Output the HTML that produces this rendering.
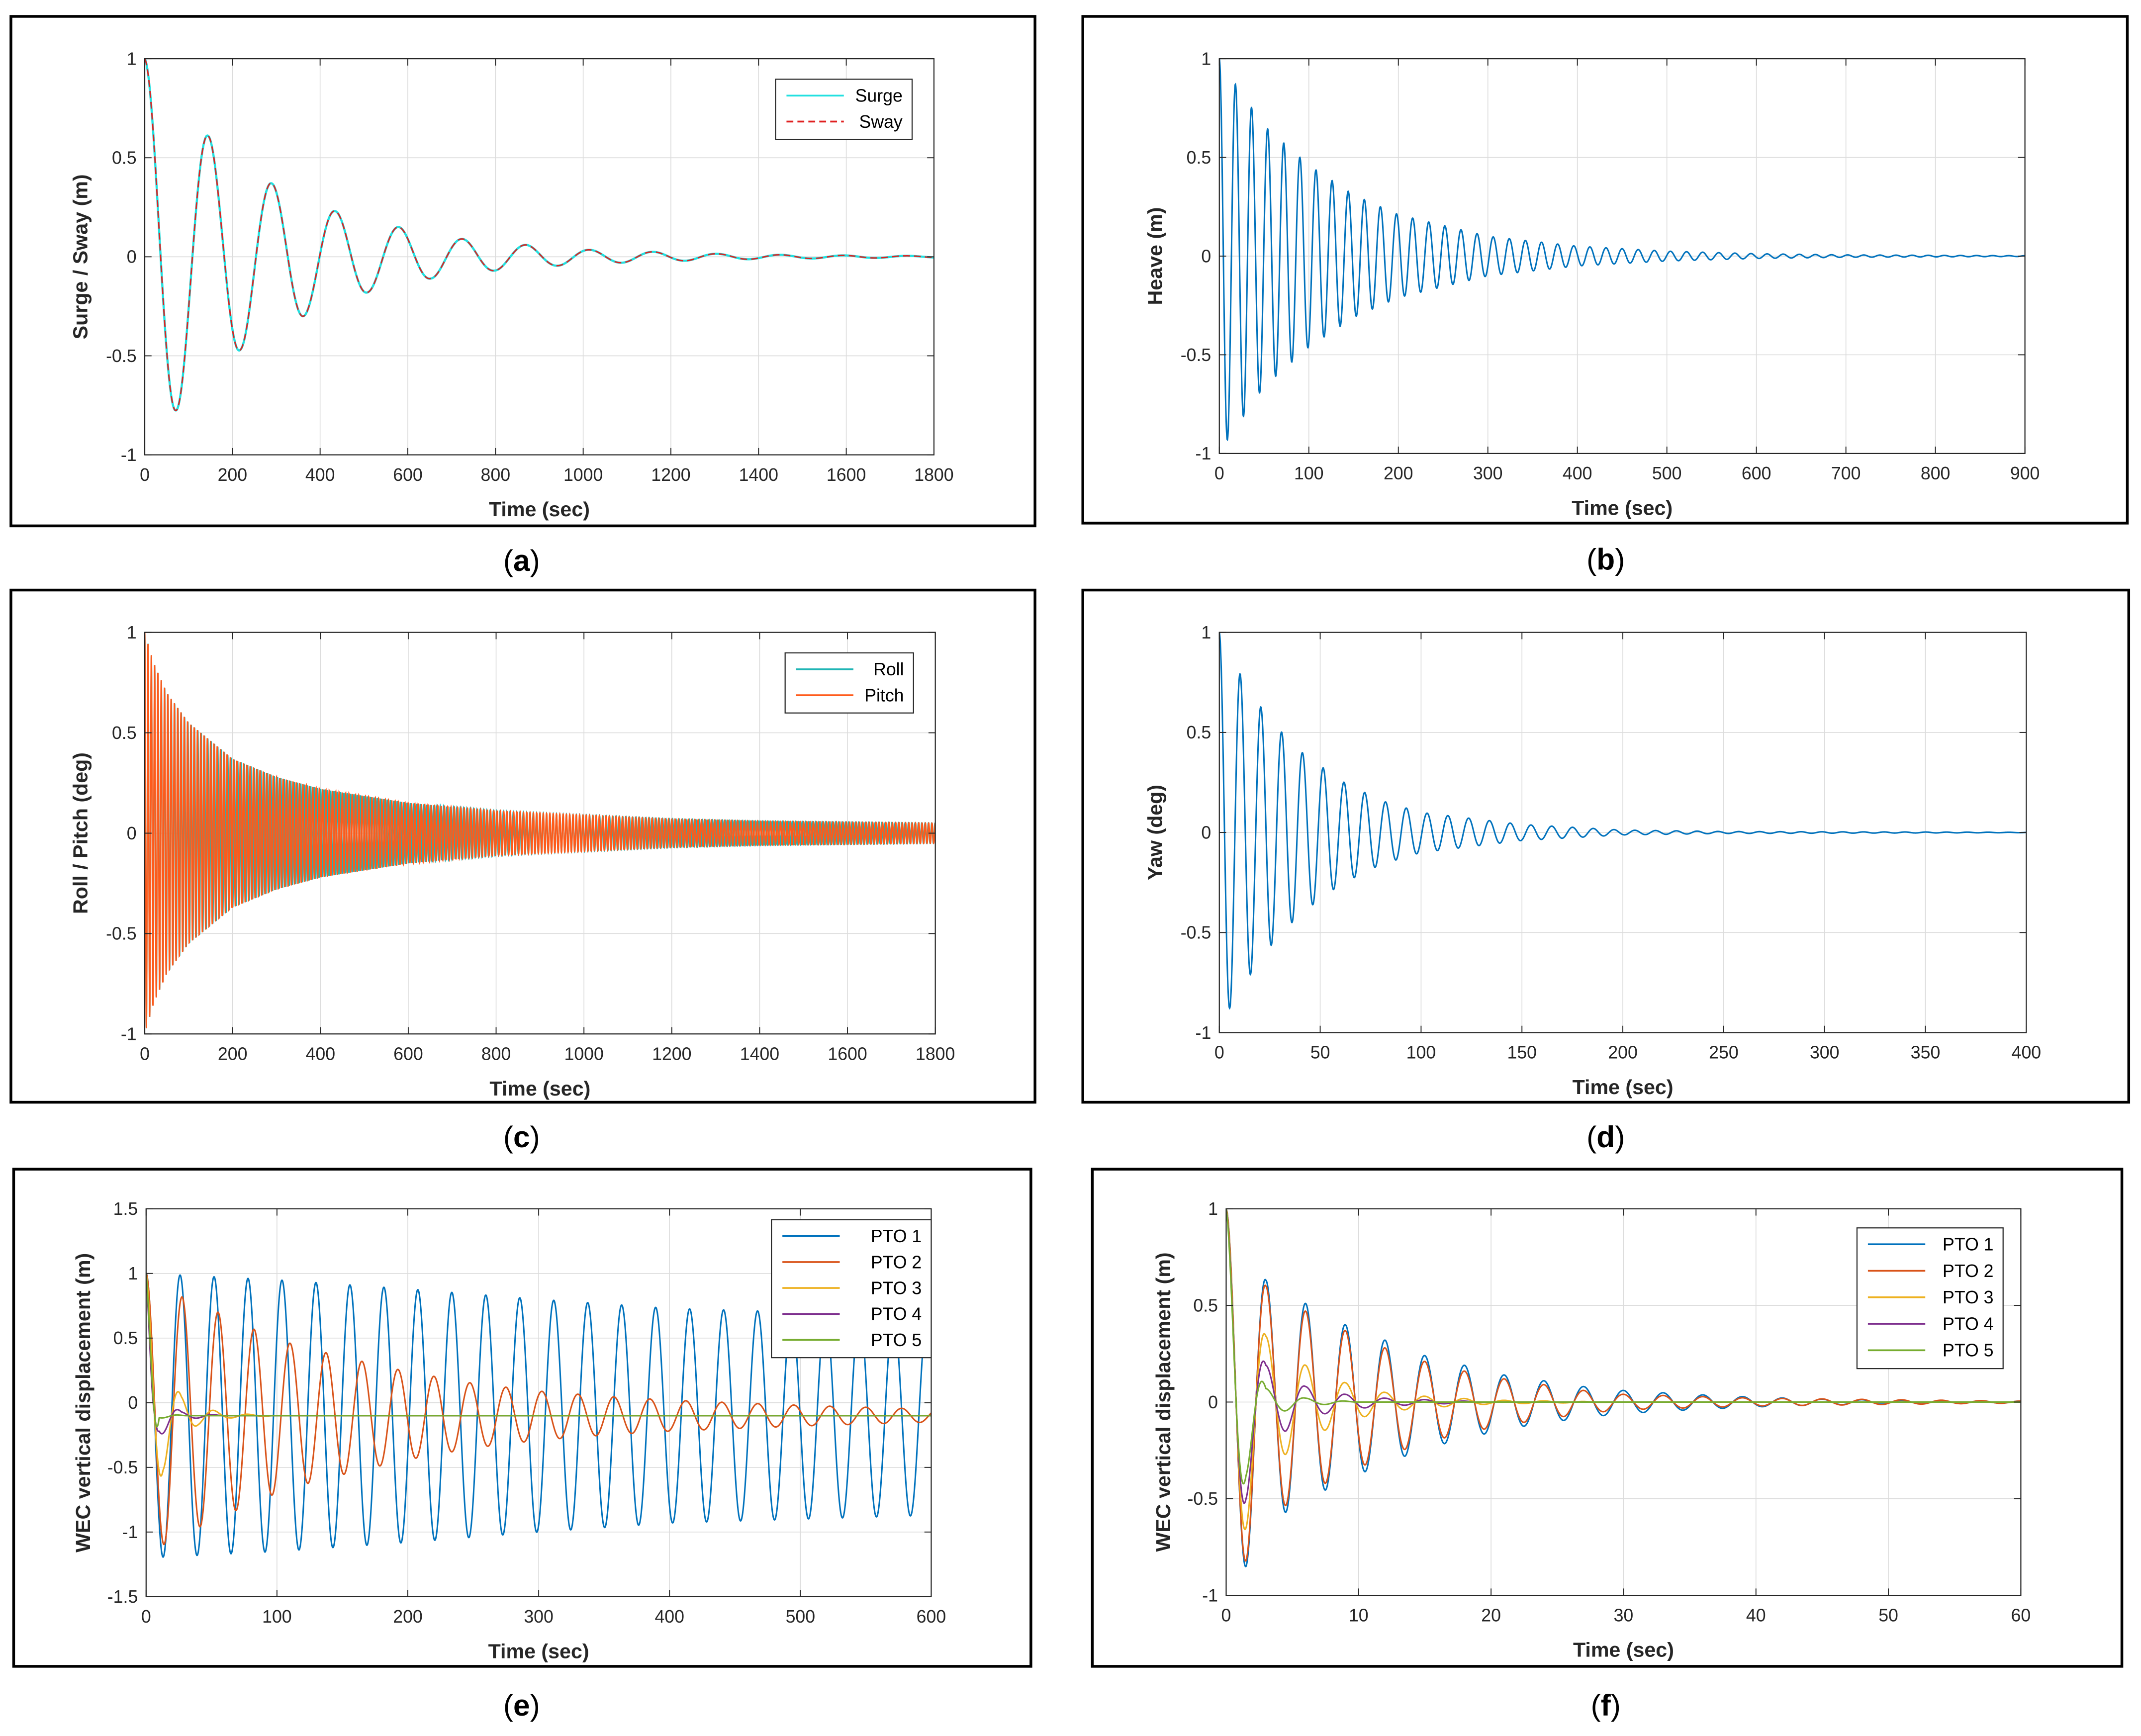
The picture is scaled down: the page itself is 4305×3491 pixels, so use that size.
<!DOCTYPE html>
<html><head><meta charset="utf-8"><style>
html,body{margin:0;padding:0;background:#fff;}
svg{display:block;}
text{font-family:"Liberation Sans",sans-serif;}
</style></head><body>
<svg id="fig" xmlns="http://www.w3.org/2000/svg" width="4305" height="3491" viewBox="0 0 1568 1271" preserveAspectRatio="none"></svg>
<script>
// ---------- data ----------
// (a) surge / sway
const surgePeriod = 145;
const surgeEnvT = [0, 70, 145, 218, 290, 362, 435, 508, 580, 652, 725, 797, 870, 942, 1015, 1087, 1160, 1232, 1305, 1450, 1595, 1800];
const surgeEnvV = [1, 0.78, 0.61, 0.47, 0.37, 0.30, 0.23, 0.18, 0.15, 0.11, 0.09, 0.07, 0.06, 0.045, 0.035, 0.03, 0.025, 0.02, 0.015, 0.01, 0.007, 0.004];
// (b) heave
const heavePeriod = 18;
const heaveEnvT = [0, 9, 18, 50, 100, 150, 200, 300, 400, 500, 600, 700, 900];
const heaveEnvV = [1, 0.93, 0.87, 0.66, 0.46, 0.31, 0.21, 0.10, 0.05, 0.025, 0.012, 0.006, 0.002];
// (c) roll / pitch
const rollPeriod = 7.56;
const pitchPeriod = 7.5;
const rpEnvT = [0, 20, 50, 100, 200, 300, 400, 600, 800, 1000, 1200, 1400, 1800];
const rpEnvV = [1, 0.85, 0.7, 0.55, 0.37, 0.28, 0.22, 0.15, 0.11, 0.09, 0.07, 0.06, 0.05];
// (d) yaw
const yawPeriod = 10.3;
const yawEnvT = [0, 5, 11, 21, 31, 41, 60, 80, 100, 150, 200, 250, 400];
const yawEnvV = [1, 0.88, 0.78, 0.62, 0.5, 0.4, 0.26, 0.16, 0.1, 0.04, 0.012, 0.005, 0.001];
// (e) PTO vertical displacement, 600 s
const ePeriods = [25.96, 27.5, 26, 26, 26];
const eOffset = -0.1;
const eEnvT1 = [0, 100, 200, 300, 400, 500, 600];
const eEnvV1 = [1.1, 1.05, 0.98, 0.9, 0.83, 0.8, 0.77];
const eEnvT2 = [0, 13, 27, 55, 82, 110, 140, 165, 200, 250, 300, 350, 400, 500, 600];
const eEnvV2 = [1.1, 1.0, 0.92, 0.8, 0.67, 0.56, 0.48, 0.42, 0.34, 0.25, 0.19, 0.15, 0.12, 0.08, 0.05];
const eEnvT3 = [0, 13, 27, 40, 60, 100, 600];
const eEnvV3 = [1.1, 0.42, 0.15, 0.07, 0.02, 0, 0];
const eEnvT4 = [0, 5, 10, 15, 27, 60, 600];
const eEnvV4 = [1.1, 0.4, 0.16, 0.12, 0.03, 0, 0];
const eEnvT5 = [0, 10, 30, 600];
const eEnvV5 = [1.1, 0.02, 0, 0];
// (f) PTO vertical displacement, 60 s
const fPeriod = 3.0;
const fEnvT1 = [0, 1.5, 3, 6, 9, 12, 15, 18, 21, 24, 27, 30, 35, 40, 45, 50, 60];
const fEnvV1 = [1, 0.85, 0.63, 0.51, 0.4, 0.32, 0.24, 0.19, 0.14, 0.11, 0.08, 0.06, 0.04, 0.025, 0.015, 0.01, 0.005];
const fEnvT2 = [0, 1.5, 3, 6, 9, 12, 15, 18, 21, 24, 27, 30, 40, 60];
const fEnvV2 = [1, 0.82, 0.6, 0.47, 0.37, 0.28, 0.21, 0.16, 0.12, 0.09, 0.06, 0.04, 0.02, 0.005];
const fEnvT3 = [0, 1.5, 3, 4.5, 6, 9, 12, 15, 20, 30, 60];
const fEnvV3 = [1, 0.65, 0.34, 0.27, 0.19, 0.1, 0.05, 0.03, 0.01, 0, 0];
const fEnvT4 = [0, 1.5, 3, 4.5, 6, 9, 12, 20, 60];
const fEnvV4 = [1, 0.5, 0.19, 0.15, 0.08, 0.04, 0.02, 0, 0];
const fEnvT5 = [0, 1.5, 3, 6, 10, 60];
const fEnvV5 = [1, 0.38, 0.07, 0.02, 0, 0];

const ticksA = [0,200,400,600,800,1000,1200,1400,1600,1800];
const ticksB = [0,100,200,300,400,500,600,700,800,900];
const ticksD = [0,50,100,150,200,250,300,350,400];
const ticksE = [0,100,200,300,400,500,600];
const ticksF = [0,10,20,30,40,50,60];
const yTicks1 = [-1,-0.5,0,0.5,1];
const yTicks15 = [-1.5,-1,-0.5,0,0.5,1,1.5];

// ---------- helpers ----------
const NS = 'http://www.w3.org/2000/svg';
const svg = document.getElementById('fig');
function mk(tag, attrs, parent) {
  const e = document.createElementNS(NS, tag);
  for (const k in attrs) e.setAttribute(k, attrs[k]);
  (parent || svg).appendChild(e);
  return e;
}
function interp(T, V, t) {
  if (t <= T[0]) return V[0];
  for (let i = 1; i < T.length; i++) {
    if (t <= T[i]) { const f = (t - T[i-1]) / (T[i] - T[i-1]); return V[i-1] + f * (V[i] - V[i-1]); }
  }
  return V[V.length - 1];
}
function fmt(v) { return String(v); }

function panel(p) {
  const g = mk('g', {});
  
  
  const box = mk('rect', {x:p.box[0], y:p.box[1], width:p.box[2]-p.box[0], height:p.box[3]-p.box[1], fill:'#fff', stroke:'#000', 'stroke-width':2}, g);
  
  
  const [L, T, R, B] = p.plot;
  const sx = v => L + (v - p.xr[0]) / (p.xr[1] - p.xr[0]) * (R - L);
  const sy = v => B - (v - p.yr[0]) / (p.yr[1] - p.yr[0]) * (B - T);
  const grid = mk('g', {stroke:'#dcdcdc', 'stroke-width':0.6}, g);
  
  
  p.xt.forEach(v => mk('line', {x1:sx(v), x2:sx(v), y1:T, y2:B}, grid));
  p.yt.forEach(v => mk('line', {x1:L, x2:R, y1:sy(v), y2:sy(v)}, grid));
  const clip = 'clip-' + p.name;
  const cp = mk('clipPath', {id:clip}, g);
  mk('rect', {x:L, y:T, width:R-L, height:B-T}, cp);
  const sg = mk('g', {'clip-path':'url(#' + clip + ')'}, g);
  p.series.forEach(s => {
    const n = s.n || 3000;
    let d = '';
    for (let i = 0; i <= n; i++) {
      const t = p.xr[0] + (p.xr[1] - p.xr[0]) * i / n;
      const v = (s.off || 0) + interp(s.envT, s.envV, t) * Math.cos(2 * Math.PI * t / s.period);
      d += (i ? 'L' : 'M') + sx(t).toFixed(2) + ',' + sy(v).toFixed(2);
    }
    const path = mk('path', {d:d, fill:'none', stroke:s.color, 'stroke-width':s.w || 1.1, 'stroke-dasharray':s.dash || 'none'}, sg);
    
    
  });
  const ax = mk('rect', {x:L, y:T, width:R-L, height:B-T, fill:'none', stroke:'#262626', 'stroke-width':0.8}, g);
  
  
  p.xt.forEach(v => {
    mk('line', {x1:sx(v), x2:sx(v), y1:B, y2:B-5, stroke:'#262626', 'stroke-width':0.7}, g);
    mk('line', {x1:sx(v), x2:sx(v), y1:T, y2:T+5, stroke:'#262626', 'stroke-width':0.7}, g);
    const tx = mk('text', {x:sx(v), y:B+19, 'text-anchor':'middle', 'font-size':13, fill:'#262626'}, g);
    tx.textContent = fmt(v);
    
    
  });
  p.yt.forEach(v => {
    mk('line', {x1:L, x2:L+5, y1:sy(v), y2:sy(v), stroke:'#262626', 'stroke-width':0.7}, g);
    mk('line', {x1:R, x2:R-5, y1:sy(v), y2:sy(v), stroke:'#262626', 'stroke-width':0.7}, g);
    const tx = mk('text', {x:L-6, y:sy(v)+4.5, 'text-anchor':'end', 'font-size':13, fill:'#262626'}, g);
    tx.textContent = fmt(v);
    
    
  });
  const xl = mk('text', {x:(L+R)/2, y:B+45, 'text-anchor':'middle', 'font-size':15, 'font-weight':'bold', fill:'#262626'}, g);
  xl.textContent = 'Time (sec)';
  
  
  const yx = p.ylx, yy = (T+B)/2;
  const yl = mk('text', {x:yx, y:yy, 'text-anchor':'middle', 'font-size':15, 'font-weight':'bold', fill:'#262626', transform:'rotate(-90 '+yx+' '+yy+')'}, g);
  yl.textContent = p.ylabel;
  
  
  if (p.legend) {
    const [lx, ly, lw] = p.legend;
    const rowH = p.legendRow;
    const lg = mk('g', {}, g);
    
    
    mk('rect', {x:lx, y:ly, width:lw, height:rowH*p.series.length+6, fill:'#fff', stroke:'#262626', 'stroke-width':0.8}, lg);
    p.series.forEach((s, i) => {
      const yy2 = ly + 12 + i*rowH;
      mk('line', {x1:lx+8, x2:lx+50, y1:yy2, y2:yy2, stroke:s.color, 'stroke-width':1.3, 'stroke-dasharray':s.dash || 'none'}, lg);
      const t = mk('text', {x:lw+lx-7, y:yy2+4.5, 'text-anchor':'end', 'font-size':13, fill:'#000'}, lg);
      t.textContent = s.label;
      
      
    });
  }
  const cap = mk('text', {x:p.cap[0], y:p.cap[1], 'text-anchor':'middle', 'font-size':22, fill:'#000', 'font-family':'"Liberation Serif", serif'}, g);
  cap.innerHTML = '(<tspan font-weight="bold">' + p.capL + '</tspan>)';
  
  
}

const C = ['#0072BD', '#D95319', '#EDB120', '#7E2F8E', '#77AC30'];

panel({name:'panel-a', box:[8,12,758,385], plot:[106,43,684,333], xr:[0,1800], yr:[-1,1], xt:ticksA, yt:yTicks1,
  ylabel:'Surge / Sway (m)', ylx:64, cap:[382,418], capL:'a', legend:[568,58,100], legendRow:19,
  series:[
    {label:'Surge', color:'#22e0e0', period:surgePeriod, envT:surgeEnvT, envV:surgeEnvV, w:1.6},
    {label:'Sway', color:'#e02020', period:surgePeriod, envT:surgeEnvT, envV:surgeEnvV, dash:'5,3', w:1}
  ]});
panel({name:'panel-b', box:[793,12,1558,383], plot:[893,43,1483,332], xr:[0,900], yr:[-1,1], xt:ticksB, yt:yTicks1,
  ylabel:'Heave (m)', ylx:851, cap:[1176,417], capL:'b',
  series:[{label:'Heave', color:C[0], period:heavePeriod, envT:heaveEnvT, envV:heaveEnvV, n:4000}]});
panel({name:'panel-c', box:[8,432,758,807], plot:[106,463,685,757], xr:[0,1800], yr:[-1,1], xt:ticksA, yt:yTicks1,
  ylabel:'Roll / Pitch (deg)', ylx:64, cap:[382,840], capL:'c', legend:[575,478,94], legendRow:19,
  series:[
    {label:'Roll', color:'#1fb5b5', period:rollPeriod, envT:rpEnvT, envV:rpEnvV, n:10000, w:1},
    {label:'Pitch', color:'#ff5a1a', period:pitchPeriod, envT:rpEnvT, envV:rpEnvV, n:10000, w:1}
  ]});
panel({name:'panel-d', box:[793,432,1559,807], plot:[893,463,1484,756], xr:[0,400], yr:[-1,1], xt:ticksD, yt:yTicks1,
  ylabel:'Yaw (deg)', ylx:851, cap:[1176,840], capL:'d',
  series:[{label:'Yaw', color:C[0], period:yawPeriod, envT:yawEnvT, envV:yawEnvV, n:4000}]});
panel({name:'panel-e', box:[10,856,755,1220], plot:[107,885,682,1169], xr:[0,600], yr:[-1.5,1.5], xt:ticksE, yt:yTicks15,
  ylabel:'WEC vertical displacement (m)', ylx:66, cap:[382,1256], capL:'e', legend:[565,893,117], legendRow:19,
  series:[
    {label:'PTO 1', color:C[0], period:ePeriods[0], off:eOffset, envT:eEnvT1, envV:eEnvV1, n:4000},
    {label:'PTO 2', color:C[1], period:ePeriods[1], off:eOffset, envT:eEnvT2, envV:eEnvV2, n:4000},
    {label:'PTO 3', color:C[2], period:ePeriods[2], off:eOffset, envT:eEnvT3, envV:eEnvV3, n:4000},
    {label:'PTO 4', color:C[3], period:ePeriods[3], off:eOffset, envT:eEnvT4, envV:eEnvV4, n:4000},
    {label:'PTO 5', color:C[4], period:ePeriods[4], off:eOffset, envT:eEnvT5, envV:eEnvV5, n:4000}
  ]});
panel({name:'panel-f', box:[800,856,1554,1220], plot:[898,885,1480,1168], xr:[0,60], yr:[-1,1], xt:ticksF, yt:yTicks1,
  ylabel:'WEC vertical displacement (m)', ylx:857, cap:[1176,1256], capL:'f', legend:[1360,899,107], legendRow:19.4,
  series:[
    {label:'PTO 1', color:C[0], period:fPeriod, envT:fEnvT1, envV:fEnvV1},
    {label:'PTO 2', color:C[1], period:fPeriod, envT:fEnvT2, envV:fEnvV2},
    {label:'PTO 3', color:C[2], period:fPeriod, envT:fEnvT3, envV:fEnvV3},
    {label:'PTO 4', color:C[3], period:fPeriod, envT:fEnvT4, envV:fEnvV4},
    {label:'PTO 5', color:C[4], period:fPeriod, envT:fEnvT5, envV:fEnvV5}
  ]});
</script>
</body></html>
